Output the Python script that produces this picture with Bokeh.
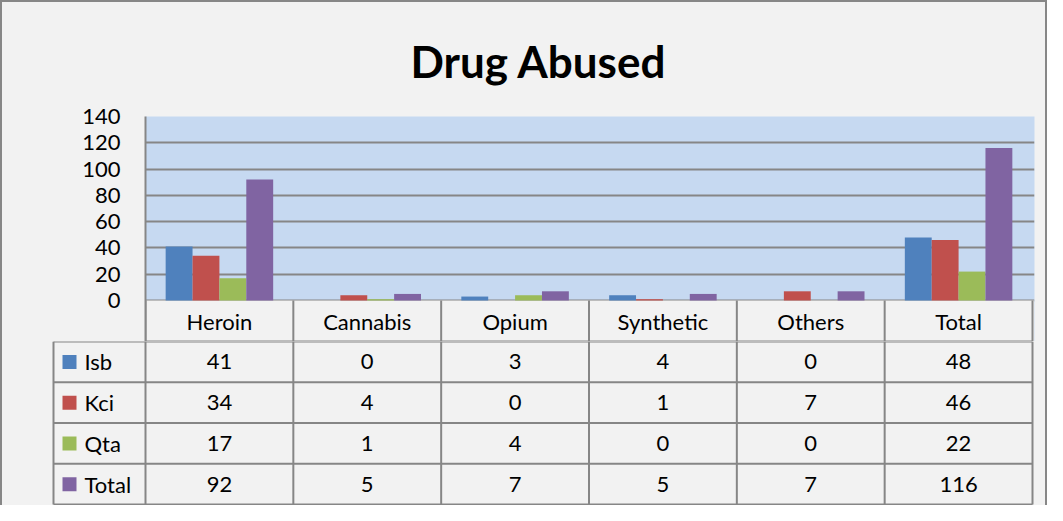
from bokeh.plotting import figure
from bokeh.models import ColumnDataSource, Range1d, FixedTicker, Title
from bokeh.layouts import column
from bokeh.core.properties import value
from bokeh.embed import file_html
from bokeh.resources import INLINE

# ---------------- data ----------------
categories = ["Heroin", "Cannabis", "Opium", "Synthetic", "Others", "Total"]
series_names = ["Isb", "Kci", "Qta", "Total"]
isb = [41, 0, 3, 4, 0, 48]
kci = [34, 4, 0, 1, 7, 46]
qta = [17, 1, 4, 0, 0, 22]
total = [92, 5, 7, 5, 7, 116]
y_ticks = [0, 20, 40, 60, 80, 100, 120, 140]
title_text = "Drug Abused"

# ---------------- style ----------------
colors = ["#4F81BD", "#C0504D", "#9BBB59", "#8064A2"]
BG = "#F2F2F2"
PLOT_BG = "#C6D9F1"
LINE = "#868686"
FONT = "Lato"
FS = "22px"

series = [isb, kci, qta, total]
n_cat = len(categories)
idx = list(range(n_cat))

# layout (page pixels)
FIG_LEFT = 10
FIG_W = 1043
FIG1_TOP = 10
PA_LEFT, PA_RIGHT = 153, 1040
PA_TOP, PA_BOTTOM = 124, 308
HDR_BOTTOM = 349
PAGE_BOTTOM = 513
TABLE_LEFT = 61
UNIT = (PA_RIGHT - PA_LEFT) / n_cat
PX_PER_Y = (PA_BOTTOM - PA_TOP) / max(y_ticks)
hdr_h = (HDR_BOTTOM - PA_BOTTOM) / PX_PER_Y

# ---------------- chart (plot area + header row) ----------------
p1 = figure(width=FIG_W, height=HDR_BOTTOM - FIG1_TOP,
            x_range=Range1d(0, n_cat + 2 / UNIT), y_range=Range1d(-hdr_h, max(y_ticks)),
            output_backend="svg", toolbar_location=None,
            min_border_left=PA_LEFT - FIG_LEFT,
            min_border_right=FIG_W - (PA_LEFT - FIG_LEFT) - (PA_RIGHT - PA_LEFT) - 2,
            min_border_top=PA_TOP - FIG1_TOP, min_border_bottom=0,
            x_axis_location=None)
p1.frame_align = False
p1.title = Title(text=title_text, align="left", text_font=FONT, text_font_size="44px",
                 text_font_style="bold", text_color="black", offset=265, standoff=59)
p1.background_fill_color = PLOT_BG
p1.border_fill_color = BG
p1.outline_line_color = None
p1.xgrid.grid_line_color = None
p1.ygrid.ticker = FixedTicker(ticks=y_ticks)
p1.ygrid.grid_line_color = LINE
p1.ygrid.grid_line_width = 2
ax = p1.yaxis[0]
ax.ticker = FixedTicker(ticks=y_ticks)
ax.major_label_text_font = FONT
ax.major_label_text_font_size = FS
ax.major_label_text_color = "black"
ax.major_tick_line_color = None
ax.minor_tick_line_color = None
ax.major_tick_out = 0
ax.major_tick_in = 0
ax.major_label_standoff = 25
ax.axis_line_color = LINE
ax.axis_line_width = 2

# header row background, lines, labels
p1.quad(left=[0], right=[n_cat + 2 / UNIT], bottom=[-hdr_h], top=[0],
        fill_color=BG, line_color=None)
p1.segment(x0=idx + [n_cat], y0=[0] * (n_cat + 1), x1=idx + [n_cat], y1=[-hdr_h] * (n_cat + 1),
           line_color=LINE, line_width=2)
p1.segment(x0=[0], y0=[-hdr_h], x1=[n_cat], y1=[-hdr_h], line_color=LINE, line_width=2)
p1.text(x=[i + 0.5 for i in idx], y=[-hdr_h / 2] * n_cat, text=categories,
        text_font=value(FONT), text_font_size=value(FS),
        text_align="center", text_baseline="middle", text_color="black")

# bars
bar_w = 1 / 5.5
for k, (s, col) in enumerate(zip(series, colors)):
    src = ColumnDataSource(dict(x=[i + 0.5 + (k - 1.5) * bar_w for i in idx], top=s))
    p1.vbar(x="x", top="top", width=bar_w, source=src, fill_color=col, line_color=None)

# ---------------- data table body ----------------
F2_LEFT = 59
F2_RIGHT = 1043
T_H = PAGE_BOTTOM - HDR_BOTTOM
n_rows = len(series)
ROW_H = (T_H - 1) / n_rows
x_start = -(PA_LEFT - F2_LEFT) / UNIT
x_end = n_cat + (F2_RIGHT - PA_RIGHT) / UNIT
p2 = figure(width=FIG_W, height=T_H,
            x_range=Range1d(x_start, x_end), y_range=Range1d(T_H / ROW_H, 0),
            output_backend="svg", toolbar_location=None,
            min_border_left=F2_LEFT - FIG_LEFT,
            min_border_right=FIG_W - (F2_LEFT - FIG_LEFT) - (F2_RIGHT - F2_LEFT),
            min_border_top=0, min_border_bottom=0,
            x_axis_location=None, y_axis_location=None)
p2.frame_align = False
p2.background_fill_color = BG
p2.border_fill_color = BG
p2.outline_line_color = None
p2.grid.grid_line_color = None

leg_x = -(PA_LEFT - TABLE_LEFT) / UNIT
rows = list(range(n_rows + 1))
p2.segment(x0=[leg_x] * (n_rows + 1), y0=rows, x1=[n_cat] * (n_rows + 1), y1=rows,
           line_color=LINE, line_width=2)
vx = idx + [n_cat, leg_x]
p2.segment(x0=vx, y0=[0] * len(vx), x1=vx, y1=[n_rows] * len(vx),
           line_color=LINE, line_width=2)

vxs, vys, vts = [], [], []
for j, s in enumerate(series):
    for i, v in enumerate(s):
        vxs.append(i + 0.5)
        vys.append(j + 0.5)
        vts.append(str(v))
p2.text(x=vxs, y=vys, text=vts, text_font=value(FONT), text_font_size=value(FS),
        text_align="center", text_baseline="middle", text_color="black")

sq_x = leg_x + 16 / UNIT
lt_x = leg_x + 31 / UNIT
ry = [j + 0.5 for j in range(n_rows)]
p2.scatter(x=[sq_x] * n_rows, y=ry, marker="square", size=14, fill_color=colors, line_color=None)
p2.text(x=[lt_x] * n_rows, y=ry, text=series_names, text_font=value(FONT),
        text_font_size=value(FS), text_align="left", text_baseline="middle", text_color="black")

layout = column(p1, p2, spacing=0,
                styles={"border-left": "2px solid #878787", "border-top": "2px solid #878787",
                        "border-right": "2px solid #878787", "background-color": BG})

open("out.html", "w").write(file_html(layout, INLINE))
